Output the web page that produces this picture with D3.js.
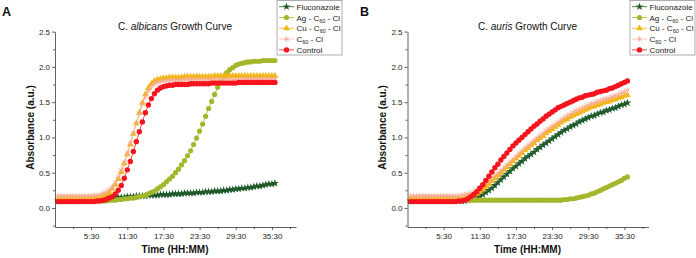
<!DOCTYPE html>
<html>
<head>
<meta charset="utf-8">
<script src="https://cdn.jsdelivr.net/npm/d3@7"></script>
<style>
  html, body { margin: 0; padding: 0; background: #ffffff; }
  svg { display: block; font-family: "Liberation Sans", Arial, sans-serif; }
</style>
</head>
<body>
<script>
// ---------------- DATA ----------------
const times = [
  0, 0.5, 1, 1.5, 2, 2.5, 3, 3.5, 4, 4.5,
  5, 5.5, 6, 6.5, 7, 7.5, 8, 8.5, 9, 9.5,
  10, 10.5, 11, 11.5, 12, 12.5, 13, 13.5, 14, 14.5,
  15, 15.5, 16, 16.5, 17, 17.5, 18, 18.5, 19, 19.5,
  20, 20.5, 21, 21.5, 22, 22.5, 23, 23.5, 24, 24.5,
  25, 25.5, 26, 26.5, 27, 27.5, 28, 28.5, 29, 29.5,
  30, 30.5, 31, 31.5, 32, 32.5, 33, 33.5, 34, 34.5,
  35, 35.5, 36
];

const seriesNames = ["Fluconazole", "Ag - C_60 - Cl", "Cu - C_60 - Cl", "C_60 - Cl", "Control"];

const xMajorTicks = [5.5, 11.5, 17.5, 23.5, 29.5, 35.5];
const xTickLabels = ["5:30", "11:30", "17:30", "23:30", "29:30", "35:30"];
const xMinorTicks = [2.5, 8.5, 14.5, 20.5, 26.5, 32.5, 38.5];
const yTicks = [0, 0.5, 1.0, 1.5, 2.0, 2.5];
const yMinorTicks = [-0.25, 0.25, 0.75, 1.25, 1.75, 2.25];

// C. albicans
const albicansFluconazole = [
  0.10, 0.10, 0.10, 0.10, 0.11, 0.11, 0.11, 0.11, 0.11, 0.12,
  0.12, 0.12, 0.12, 0.13, 0.13, 0.13, 0.14, 0.14, 0.14, 0.15,
  0.15, 0.15, 0.15, 0.16, 0.16, 0.16, 0.17, 0.17, 0.17, 0.17,
  0.18, 0.18, 0.18, 0.18, 0.19, 0.19, 0.19, 0.19, 0.20, 0.20,
  0.20, 0.20, 0.21, 0.21, 0.21, 0.21, 0.22, 0.22, 0.22, 0.23,
  0.23, 0.23, 0.24, 0.24, 0.24, 0.25, 0.25, 0.26, 0.26, 0.27,
  0.27, 0.28, 0.28, 0.29, 0.29, 0.30, 0.31, 0.31, 0.32, 0.33,
  0.34, 0.34, 0.35
];
const albicansAg = [
  0.10, 0.10, 0.10, 0.10, 0.10, 0.10, 0.10, 0.10, 0.10, 0.10,
  0.10, 0.10, 0.10, 0.10, 0.10, 0.10, 0.10, 0.11, 0.11, 0.11,
  0.12, 0.12, 0.13, 0.13, 0.14, 0.14, 0.15, 0.16, 0.17, 0.18,
  0.20, 0.22, 0.24, 0.27, 0.30, 0.33, 0.37, 0.41, 0.45, 0.50,
  0.55, 0.61, 0.67, 0.74, 0.81, 0.90, 0.99, 1.09, 1.19, 1.30,
  1.41, 1.51, 1.61, 1.71, 1.79, 1.86, 1.92, 1.96, 1.99, 2.02,
  2.04, 2.05, 2.06, 2.07, 2.07, 2.08, 2.08, 2.08, 2.09, 2.09,
  2.09, 2.09, 2.09
];
const albicansCu = [
  0.13, 0.13, 0.13, 0.13, 0.13, 0.13, 0.13, 0.13, 0.13, 0.13,
  0.13, 0.13, 0.14, 0.14, 0.15, 0.17, 0.19, 0.22, 0.27, 0.33,
  0.41, 0.51, 0.63, 0.76, 0.90, 1.05, 1.20, 1.35, 1.49, 1.61,
  1.70, 1.76, 1.80, 1.82, 1.83, 1.84, 1.84, 1.85, 1.85, 1.85,
  1.85, 1.85, 1.86, 1.86, 1.86, 1.86, 1.86, 1.86, 1.86, 1.86,
  1.86, 1.86, 1.87, 1.87, 1.87, 1.87, 1.87, 1.87, 1.87, 1.87,
  1.87, 1.87, 1.87, 1.87, 1.87, 1.87, 1.87, 1.87, 1.87, 1.87,
  1.87, 1.87, 1.87
];
const albicansC60 = [
  0.17, 0.17, 0.17, 0.17, 0.17, 0.17, 0.17, 0.17, 0.17, 0.17,
  0.17, 0.17, 0.18, 0.18, 0.19, 0.21, 0.23, 0.26, 0.30, 0.36,
  0.44, 0.54, 0.65, 0.78, 0.92, 1.06, 1.20, 1.34, 1.47, 1.58,
  1.66, 1.72, 1.76, 1.78, 1.79, 1.80, 1.80, 1.81, 1.81, 1.81,
  1.81, 1.81, 1.82, 1.82, 1.82, 1.82, 1.82, 1.82, 1.82, 1.82,
  1.82, 1.82, 1.82, 1.82, 1.82, 1.82, 1.82, 1.82, 1.82, 1.82,
  1.82, 1.82, 1.83, 1.83, 1.83, 1.83, 1.83, 1.83, 1.83, 1.83,
  1.83, 1.83, 1.83
];
const albicansControl = [
  0.09, 0.09, 0.09, 0.09, 0.09, 0.09, 0.09, 0.09, 0.09, 0.09,
  0.09, 0.09, 0.09, 0.10, 0.10, 0.11, 0.12, 0.14, 0.16, 0.20,
  0.25, 0.32, 0.42, 0.54, 0.66, 0.80, 0.94, 1.08, 1.22, 1.35,
  1.46, 1.55, 1.62, 1.67, 1.70, 1.72, 1.73, 1.74, 1.74, 1.75,
  1.75, 1.75, 1.75, 1.75, 1.76, 1.76, 1.76, 1.76, 1.76, 1.76,
  1.76, 1.77, 1.77, 1.77, 1.77, 1.77, 1.77, 1.77, 1.77, 1.77,
  1.78, 1.78, 1.78, 1.78, 1.78, 1.78, 1.78, 1.78, 1.78, 1.78,
  1.78, 1.78, 1.78
];

// C. auris
const aurisFluconazole = [
  0.10, 0.10, 0.10, 0.10, 0.10, 0.10, 0.10, 0.10, 0.10, 0.10,
  0.10, 0.10, 0.10, 0.10, 0.10, 0.10, 0.10, 0.10, 0.10, 0.11,
  0.12, 0.13, 0.15, 0.17, 0.19, 0.22, 0.25, 0.28, 0.32, 0.36,
  0.40, 0.44, 0.48, 0.52, 0.56, 0.59, 0.63, 0.66, 0.70, 0.73,
  0.76, 0.79, 0.83, 0.86, 0.89, 0.92, 0.95, 0.98, 1.01, 1.04,
  1.07, 1.10, 1.12, 1.15, 1.17, 1.19, 1.22, 1.24, 1.26, 1.28,
  1.30, 1.31, 1.33, 1.35, 1.36, 1.38, 1.39, 1.41, 1.42, 1.44,
  1.46, 1.47, 1.49
];
const aurisAg = [
  0.11, 0.11, 0.11, 0.11, 0.11, 0.11, 0.11, 0.11, 0.11, 0.11,
  0.11, 0.11, 0.11, 0.11, 0.11, 0.11, 0.11, 0.11, 0.11, 0.11,
  0.11, 0.11, 0.11, 0.11, 0.11, 0.11, 0.11, 0.11, 0.11, 0.11,
  0.11, 0.11, 0.11, 0.11, 0.11, 0.11, 0.11, 0.11, 0.11, 0.11,
  0.11, 0.11, 0.11, 0.11, 0.11, 0.11, 0.11, 0.11, 0.11, 0.11,
  0.11, 0.12, 0.12, 0.13, 0.13, 0.14, 0.15, 0.16, 0.17, 0.18,
  0.20, 0.21, 0.23, 0.25, 0.27, 0.29, 0.31, 0.33, 0.35, 0.37,
  0.39, 0.42, 0.44
];
const aurisCu = [
  0.13, 0.13, 0.13, 0.13, 0.13, 0.13, 0.13, 0.13, 0.13, 0.13,
  0.13, 0.13, 0.13, 0.13, 0.13, 0.13, 0.13, 0.13, 0.14, 0.15,
  0.16, 0.18, 0.20, 0.23, 0.26, 0.30, 0.34, 0.38, 0.42, 0.46,
  0.50, 0.54, 0.58, 0.62, 0.66, 0.70, 0.74, 0.78, 0.82, 0.85,
  0.89, 0.92, 0.96, 0.99, 1.02, 1.06, 1.09, 1.12, 1.15, 1.18,
  1.21, 1.24, 1.26, 1.29, 1.31, 1.33, 1.35, 1.37, 1.39, 1.41,
  1.43, 1.44, 1.46, 1.47, 1.49, 1.50, 1.51, 1.53, 1.54, 1.56,
  1.57, 1.59, 1.60
];
const aurisC60 = [
  0.17, 0.17, 0.17, 0.17, 0.17, 0.17, 0.17, 0.17, 0.17, 0.17,
  0.17, 0.17, 0.17, 0.17, 0.17, 0.17, 0.17, 0.18, 0.19, 0.20,
  0.21, 0.23, 0.26, 0.29, 0.32, 0.36, 0.39, 0.43, 0.46, 0.49,
  0.53, 0.57, 0.61, 0.65, 0.69, 0.73, 0.77, 0.81, 0.85, 0.88,
  0.92, 0.96, 0.99, 1.03, 1.06, 1.10, 1.13, 1.16, 1.19, 1.22,
  1.25, 1.28, 1.31, 1.33, 1.36, 1.38, 1.40, 1.42, 1.44, 1.46,
  1.48, 1.49, 1.51, 1.52, 1.54, 1.55, 1.56, 1.58, 1.59, 1.61,
  1.63, 1.65, 1.67
];
const aurisControl = [
  0.09, 0.09, 0.09, 0.09, 0.09, 0.09, 0.09, 0.09, 0.09, 0.09,
  0.09, 0.09, 0.09, 0.09, 0.09, 0.09, 0.10, 0.10, 0.11, 0.13,
  0.16, 0.19, 0.23, 0.28, 0.33, 0.39, 0.45, 0.51, 0.57, 0.62,
  0.68, 0.73, 0.78, 0.83, 0.88, 0.92, 0.96, 1.00, 1.04, 1.08,
  1.12, 1.16, 1.19, 1.23, 1.26, 1.30, 1.33, 1.36, 1.39, 1.42,
  1.44, 1.46, 1.48, 1.50, 1.52, 1.54, 1.56, 1.57, 1.59, 1.60,
  1.61, 1.62, 1.64, 1.65, 1.66, 1.67, 1.69, 1.70, 1.72, 1.74,
  1.76, 1.78, 1.80
];

// ---------------- STYLE ----------------
const seriesStyles = [
  { color: "#1f5a2b", symbol: d3.symbolStar, size: 20, mode: "fill", opacity: 1 },
  { color: "#a4b62b", symbol: d3.symbolCircle, size: 21, mode: "fill", opacity: 1 },
  { color: "#f4b718", symbol: d3.symbolTriangle, size: 20, mode: "fill", opacity: 1 },
  { color: "#f8a890", symbol: d3.symbolAsterisk, size: 24, mode: "stroke", opacity: 0.75 },
  { color: "#f5141e", symbol: d3.symbolCircle, size: 23, mode: "fill", opacity: 1 }
];

const panels = [
  { letter: "A", letterX: 2, x0: 55, x1: 296, species: "albicans", legendX: 277,
    values: [albicansFluconazole, albicansAg, albicansCu, albicansC60, albicansControl] },
  { letter: "B", letterX: 360, x0: 407.5, x1: 648.5, species: "auris", legendX: 630,
    values: [aurisFluconazole, aurisAg, aurisCu, aurisC60, aurisControl] }
];

// ---------------- DRAW ----------------
const svg = d3.select("body").append("svg").attr("width", 696).attr("height", 258);
const axisColor = "#3a3a3a";

function addLabel(sel, label, subSize) {
  const parts = label.split("_");
  // parts: before "_" normal, the two chars after are subscript digits
  parts.forEach((p, i) => {
    if (i === 0) {
      sel.append("tspan").text(p);
    } else {
      const sub = p.slice(0, 2), rest = p.slice(2);
      sel.append("tspan").attr("font-size", subSize).attr("dy", 2).text(sub);
      sel.append("tspan").attr("dy", -2).text(rest);
    }
  });
}

function drawMarker(g, st, cx, cy) {
  const p = g.append("path")
    .attr("d", d3.symbol().type(st.symbol).size(st.size)())
    .attr("transform", `translate(${cx},${cy})`)
    .attr("opacity", st.opacity);
  if (st.mode === "fill") p.attr("fill", st.color);
  else p.attr("fill", "none").attr("stroke", st.color).attr("stroke-width", 1);
}

panels.forEach(panel => {
  const g = svg.append("g");
  const x = d3.scaleLinear().domain([-0.5, 39.5]).range([panel.x0, panel.x1]);
  const y = d3.scaleLinear().domain([-0.27, 2.5]).range([227, 31.6]);

  // Series
  panel.values.forEach((vals, si) => {
    const st = seriesStyles[si];
    const pts = times.map((t, i) => [t, vals[i]]);
    g.append("path")
      .datum(pts)
      .attr("fill", "none")
      .attr("stroke", st.color)
      .attr("stroke-width", 0.8)
      .attr("opacity", st.opacity)
      .attr("d", d3.line().x(d => x(d[0])).y(d => y(d[1])));
    const mg = g.append("g");
    pts.forEach(d => drawMarker(mg, st, x(d[0]), y(d[1])));
  });

  // Y axis
  const yAxis = g.append("g")
    .attr("transform", `translate(${panel.x0},0)`)
    .call(d3.axisLeft(y).tickValues(yTicks).tickFormat(d3.format(".1f"))
      .tickSize(3).tickSizeOuter(0).tickPadding(2));
  g.append("g")
    .attr("transform", `translate(${panel.x0},0)`)
    .call(d3.axisLeft(y).tickValues(yMinorTicks).tickFormat("").tickSize(2).tickSizeOuter(0))
    .select(".domain").remove();

  // X axis
  const xAxis = g.append("g")
    .attr("transform", "translate(0,227)")
    .call(d3.axisBottom(x).tickValues(xMajorTicks)
      .tickFormat((d, i) => xTickLabels[i]).tickSize(3).tickSizeOuter(0).tickPadding(3));
  g.append("g")
    .attr("transform", "translate(0,227)")
    .call(d3.axisBottom(x).tickValues(xMinorTicks).tickFormat("").tickSize(2).tickSizeOuter(0))
    .select(".domain").remove();

  g.selectAll(".domain, .tick line").attr("stroke", axisColor).attr("stroke-width", 0.8);
  g.selectAll(".tick text").attr("font-size", 8).attr("fill", "#222")
    .attr("font-family", "Liberation Sans, Arial, sans-serif");

  const cx = (panel.x0 + panel.x1) / 2 - 0.5;

  // Title
  const title = g.append("text").attr("x", cx).attr("y", 30)
    .attr("text-anchor", "middle").attr("font-size", 10).attr("fill", "#111");
  title.append("tspan").text("C. ");
  title.append("tspan").attr("font-style", "italic").text(panel.species);
  title.append("tspan").text(" Growth Curve");

  // Axis titles
  g.append("text")
    .attr("transform", `translate(${panel.x0 - 21.5},127.5) rotate(-90)`)
    .attr("text-anchor", "middle").attr("font-size", 10).attr("font-weight", "bold")
    .attr("fill", "#111").text("Absorbance (a.u.)");
  g.append("text")
    .attr("x", cx).attr("y", 253)
    .attr("text-anchor", "middle").attr("font-size", 10).attr("font-weight", "bold")
    .attr("fill", "#111").text("Time (HH:MM)");

  // Panel letter
  g.append("text").attr("x", panel.letterX).attr("y", 16)
    .attr("font-size", 12.5).attr("font-weight", "bold").attr("fill", "#111")
    .text(panel.letter);

  // Legend
  const lg = g.append("g").attr("transform", `translate(${panel.legendX},0)`);
  lg.append("rect").attr("x", 0).attr("y", 0.5).attr("width", 65).attr("height", 54.5)
    .attr("fill", "#fff").attr("stroke", "#8a8a8a").attr("stroke-width", 0.7);
  seriesNames.forEach((name, i) => {
    const st = seriesStyles[i];
    const cy = 6.7 + i * 10.8;
    lg.append("line").attr("x1", 2).attr("x2", 17).attr("y1", cy).attr("y2", cy)
      .attr("stroke", st.color).attr("stroke-width", 0.8).attr("opacity", st.opacity);
    drawMarker(lg, st, 9.5, cy);
    const t = lg.append("text").attr("x", 19.5).attr("y", cy + 3)
      .attr("font-size", 8).attr("fill", "#222");
    addLabel(t, name, 5.5);
  });
});
</script>
</body>
</html>
